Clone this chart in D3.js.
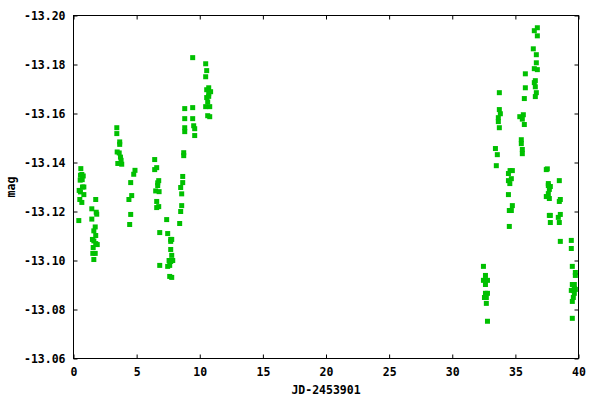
<!DOCTYPE html>
<html><head><meta charset="utf-8">
<script src="https://cdn.jsdelivr.net/npm/d3@7"></script>
<style>body{margin:0;background:#fff}svg{display:block}</style>
</head><body><svg id="c" width="600" height="400"></svg>
<script>
const jd = [
0.58,0.66,0.77,0.55,0.53,0.69,0.82,0.71,0.45,0.55,0.82,0.50,0.66,0.42,
1.76,1.45,1.80,1.84,1.45,1.72,1.61,1.76,1.50,1.61,1.76,1.88,1.56,1.53,1.72,1.61,
3.43,3.43,3.66,3.66,3.46,3.62,3.72,3.77,3.51,3.82,
4.87,4.77,4.53,4.61,4.39,4.53,4.45,
6.43,6.43,6.59,6.75,6.67,6.67,6.51,6.78,6.59,6.75,6.59,6.83,6.83,
7.38,7.46,7.70,7.78,7.70,7.70,7.78,7.57,7.86,7.70,7.46,7.62,7.62,7.78,
8.41,8.49,8.57,8.57,8.49,8.65,8.65,8.73,8.73,8.81,8.81,8.81,8.81,9.44,9.44,9.44,9.52,9.60,9.60,
10.47,10.55,10.47,10.71,10.55,10.86,10.71,10.55,10.71,10.63,10.47,10.79,10.63,10.79,
32.47,32.63,32.63,32.47,32.79,32.63,32.63,32.79,32.55,32.70,32.70,32.79,
33.42,33.57,33.49,33.73,33.73,33.81,33.65,33.65,33.73,34.58,34.76,34.45,34.68,34.45,34.56,34.45,34.76,34.52,34.68,34.52,
35.47,35.47,35.55,35.55,35.35,35.55,35.63,35.71,35.79,35.79,35.71,36.50,36.74,36.74,36.42,36.66,36.66,36.50,36.74,36.58,36.50,36.58,36.66,36.58,
37.45,37.53,37.61,37.61,37.77,37.69,37.61,37.45,37.69,37.69,37.77,37.77,38.48,38.48,38.56,38.56,38.40,38.48,38.56,
39.43,39.43,39.51,39.75,39.75,39.51,39.67,39.67,39.43,39.59,39.75,39.67,39.59,39.51,39.51
];
const mag = [
-13.1375,-13.1351,-13.1345,-13.1348,-13.1328,-13.1330,-13.1300,-13.1300,-13.1286,-13.1280,-13.1269,-13.1249,-13.1237,-13.1163,
-13.1249,-13.1211,-13.1197,-13.1189,-13.1169,-13.1137,-13.1121,-13.1102,-13.1086,-13.1080,-13.1069,-13.1065,-13.1053,-13.1029,-13.1029,-13.1004,
-13.1542,-13.1518,-13.1484,-13.1474,-13.1443,-13.1439,-13.1422,-13.1409,-13.1396,-13.1393,
-13.1368,-13.1352,-13.1318,-13.1265,-13.1249,-13.1188,-13.1147,
-13.1412,-13.1371,-13.1379,-13.1326,-13.1317,-13.1306,-13.1284,-13.1281,-13.1241,-13.1220,-13.1216,-13.1114,-13.0980,
-13.1167,-13.1110,-13.1086,-13.1086,-13.1078,-13.1045,-13.1021,-13.1000,-13.1000,-13.0996,-13.0976,-13.0980,-13.0935,-13.0931,
-13.1151,-13.1200,-13.1224,-13.1272,-13.1298,-13.1318,-13.1343,-13.1440,-13.1428,-13.1620,-13.1579,-13.1542,-13.1526,-13.1828,-13.1624,-13.1579,-13.1550,-13.1538,-13.1510,
-13.1803,-13.1775,-13.1750,-13.1705,-13.1697,-13.1689,-13.1681,-13.1665,-13.1670,-13.1647,-13.1628,-13.1628,-13.1591,-13.1587,
-13.0976,-13.0939,-13.0919,-13.0919,-13.0919,-13.0902,-13.0866,-13.0866,-13.0849,-13.0849,-13.0825,-13.0752,
-13.1457,-13.1432,-13.1387,-13.1685,-13.1616,-13.1599,-13.1583,-13.1567,-13.1542,-13.1367,-13.1367,-13.1355,-13.1334,-13.1326,-13.1314,-13.1269,-13.1224,-13.1204,-13.1204,-13.1139,
-13.1493,-13.1477,-13.1453,-13.1436,-13.1587,-13.1577,-13.1595,-13.1555,-13.1762,-13.1705,-13.1661,-13.1938,-13.1950,-13.1917,-13.1864,-13.1840,-13.1807,-13.1783,-13.1779,-13.1734,-13.1726,-13.1709,-13.1685,-13.1669,
-13.1371,-13.1374,-13.1314,-13.1306,-13.1302,-13.1290,-13.1273,-13.1261,-13.1253,-13.1184,-13.1184,-13.1155,-13.1326,-13.1241,-13.1249,-13.1188,-13.1176,-13.1155,-13.1078,
-13.1082,-13.1049,-13.0976,-13.0951,-13.0939,-13.0902,-13.0902,-13.0886,-13.0878,-13.0878,-13.0882,-13.0866,-13.0849,-13.0833,-13.0764
];
const xTicks = [0,5,10,15,20,25,30,35,40];
const yTicks = [-13.20,-13.18,-13.16,-13.14,-13.12,-13.10,-13.08,-13.06];
const xLabel = "JD-2453901";
const yLabel = "mag";

const L = 73.5, R = 578.5, T = 15.5, B = 358.5;
const svg = d3.select("#c");
const font = "'DejaVu Sans Mono', monospace";
const fs = "11.5px";
const x = d3.scaleLinear().domain([0,40]).range([L,R]);
const y = d3.scaleLinear().domain([-13.20,-13.06]).range([T,B]);
const fmtY = v => v.toFixed(2);
const tk = 4;

function styleAxis(g, hideText){
  g.select(".domain").remove();
  g.selectAll("line").attr("stroke","#000").attr("stroke-width",1);
  g.selectAll("text").attr("fill","#000").attr("font-family",font)
    .attr("font-size",fs).attr("font-weight","bold");
  if (hideText) g.selectAll("text").remove();
}
svg.append("g").attr("transform",`translate(${L},0)`)
  .call(d3.axisLeft(y).tickValues(yTicks).tickFormat(fmtY).tickSizeInner(-tk).tickSizeOuter(0).tickPadding(8))
  .call(g=>styleAxis(g,false));
svg.append("g").attr("transform",`translate(${R},0)`)
  .call(d3.axisRight(y).tickValues(yTicks).tickSizeInner(-tk).tickSizeOuter(0))
  .call(g=>styleAxis(g,true));
svg.append("g").attr("transform",`translate(0,${B})`)
  .call(d3.axisBottom(x).tickValues(xTicks).tickFormat(d3.format("d")).tickSizeInner(-tk).tickSizeOuter(0).tickPadding(9))
  .call(g=>styleAxis(g,false));
svg.append("g").attr("transform",`translate(0,${T})`)
  .call(d3.axisTop(x).tickValues(xTicks).tickSizeInner(-tk).tickSizeOuter(0))
  .call(g=>styleAxis(g,true));

svg.append("rect").attr("x",L).attr("y",T).attr("width",R-L).attr("height",B-T)
  .attr("fill","none").attr("stroke","#000").attr("stroke-width",1);

const s = 5;
svg.append("g").selectAll("rect.pt").data(d3.range(jd.length)).join("rect")
  .attr("class","pt")
  .attr("x",i=>x(jd[i])-s/2).attr("y",i=>y(mag[i])-s/2)
  .attr("width",s).attr("height",s).attr("fill","#00c000");

svg.append("text").attr("x",(L+R)/2).attr("y",394).attr("text-anchor","middle")
  .attr("font-family",font).attr("font-size",fs).attr("font-weight","bold").text(xLabel);
svg.append("text").attr("transform",`translate(15,${(T+B)/2}) rotate(-90)`).attr("text-anchor","middle")
  .attr("font-family",font).attr("font-size",fs).attr("font-weight","bold").text(yLabel);
</script></body></html>
